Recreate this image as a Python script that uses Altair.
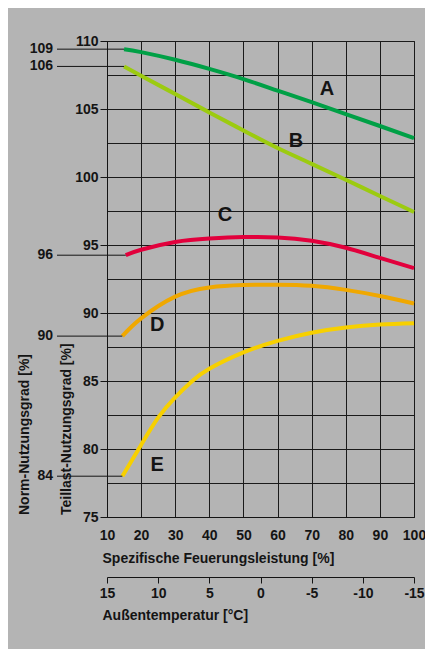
import altair as alt
import pandas as pd

FONT = "Liberation Sans"
BG = "#b4b4b4"
INK = "#141414"

# Axis values
leistung_ticks = [10, 20, 30, 40, 50, 60, 70, 80, 90, 100]
y_ticks = [75, 77.5, 80, 82.5, 85, 87.5, 90, 92.5, 95, 97.5, 100, 102.5, 105, 107.5, 110]
temp_ticks = [15, 10, 5, 0, -5, -10, -15]

# Curves (Teillast-Nutzungsgrad vs. spezifische Feuerungsleistung)
curve_names = ["A", "B", "C", "D", "E"]
curve_colors = ["#00a046", "#9ccb10", "#e2003c", "#f0a800", "#f7d000"]

a_x = [15, 20, 30, 40, 50, 60, 70, 80, 90, 100]
a_y = [109.4, 109.18, 108.62, 107.95, 107.2, 106.35, 105.5, 104.63, 103.75, 102.86]
b_x = [15, 20, 30, 40, 50, 60, 70, 80, 90, 100]
b_y = [108.13, 107.45, 106.1, 104.75, 103.42, 102.13, 100.97, 99.8, 98.6, 97.43]
c_x = [15.5, 20, 30, 40, 50, 60, 70, 80, 90, 100]
c_y = [94.25, 94.65, 95.22, 95.47, 95.58, 95.56, 95.32, 94.8, 94.05, 93.3]
d_x = [14.5, 20, 30, 40, 50, 60, 70, 80, 90, 100]
d_y = [88.3, 89.6, 91.2, 91.88, 92.05, 92.08, 92.0, 91.7, 91.25, 90.7]
e_x = [14.5, 20, 25, 30, 35, 40, 50, 60, 70, 80, 90, 100]
e_y = [78.0, 80.3, 82.3, 83.8, 85.0, 85.9, 87.1, 87.95, 88.55, 88.93, 89.15, 89.25]

# Norm-Nutzungsgrad labels for each curve
norm_labels = ["109", "106", "96", "90", "84"]

# Curve letter label positions
letter_x = [74.5, 65.4, 44.6, 24.7, 24.7]
letter_y = [106.5, 102.65, 97.2, 89.1, 78.8]

series = [(a_x, a_y), (b_x, b_y), (c_x, c_y), (d_x, d_y), (e_x, e_y)]
rows = []
starts = []
for name, (xs, ys), norm in zip(curve_names, series, norm_labels):
    for xv, yv in zip(xs, ys):
        rows.append({"curve": name, "x": xv, "y": yv})
    starts.append({"curve": name, "x": xs[0], "y": ys[0], "norm": norm})
curves = pd.DataFrame(rows)
starts_df = pd.DataFrame(starts)
letters_df = pd.DataFrame({"curve": curve_names, "x": letter_x, "y": letter_y})
temp_df = pd.DataFrame({"t": temp_ticks})

W, H = 307, 476

x_scale = alt.Scale(domain=[10, 100], nice=False, zero=False)
y_scale = alt.Scale(domain=[75, 110], nice=False, zero=False)

common = dict(labelFont=FONT, titleFont=FONT, labelFontSize=14, titleFontSize=14,
              labelFontWeight="bold", titleFontWeight="bold", labelColor=INK, titleColor=INK,
              labelOverlap=False)

x_axis = alt.Axis(
    values=leistung_ticks, ticks=False, labelPadding=11, labelFlush=False,
    title="Spezifische Feuerungsleistung [%]", titleX=-5, titleY=41,
    titleAlign="left", titleBaseline="middle", grid=True, **common,
)
y_axis = alt.Axis(
    values=y_ticks, labelExpr="datum.value % 5 === 0 ? datum.label : ''",
    tickSize=7, tickColor=INK,
    tickOpacity={"condition": {"test": "datum.value % 5 === 0", "value": 1}, "value": 0},
    labelPadding=2, title=None, grid=True, **common,
)

X = alt.X("x:Q", scale=x_scale, axis=x_axis)
Y = alt.Y("y:Q", scale=y_scale, axis=y_axis)

lines = alt.Chart(curves).mark_line(strokeWidth=4, interpolate="natural", strokeCap="butt").encode(
    x=X, y=Y,
    color=alt.Color("curve:N", scale=alt.Scale(domain=curve_names, range=curve_colors), legend=None),
)

leaders = alt.Chart(starts_df).mark_rule(color=INK, strokeWidth=1).encode(
    x=X, x2=alt.value(-50), y=Y,
)

norm_text = alt.Chart(starts_df).mark_text(
    align="right", baseline="middle", font=FONT, fontSize=14, fontWeight="bold", color=INK
).encode(x=alt.value(-54), y=Y, text="norm:N")

letters = alt.Chart(letters_df).mark_text(
    align="center", baseline="middle", font=FONT, fontSize=20, fontWeight="bold", color=INK
).encode(x=X, y=Y, text="curve:N")

one = alt.Data(values=[{}])
norm_title = alt.Chart(one).mark_text(
    text="Norm-Nutzungsgrad [%]", angle=270, align="left", baseline="middle",
    font=FONT, fontSize=14, fontWeight="bold", color=INK,
).encode(x=alt.value(-82), y=alt.value(474))
teil_title = alt.Chart(one).mark_text(
    text="Teillast-Nutzungsgrad [%]", angle=270, align="left", baseline="middle",
    font=FONT, fontSize=14, fontWeight="bold", color=INK,
).encode(x=alt.value(-40), y=alt.value(474))

strip_left = alt.Chart(one).mark_rect(color="white").encode(
    x=alt.value(-107), x2=alt.value(-99), y=alt.value(-41), y2=alt.value(608))
strip_top = alt.Chart(one).mark_rect(color="white").encode(
    x=alt.value(-107), x2=alt.value(318), y=alt.value(-41), y2=alt.value(-33))

main = alt.layer(lines, leaders, norm_text, letters, norm_title, teil_title, strip_left, strip_top)

temp_layer = alt.Chart(temp_df).mark_point(opacity=0).encode(
    x=alt.X("t:Q", scale=alt.Scale(domain=[15, -15], nice=False, zero=False),
            axis=alt.Axis(orient="bottom", offset=60, values=temp_ticks, grid=False,
                          tickSize=6, tickColor=INK, domainColor=INK, labelPadding=3,
                          labelFlush=False, labelExpr="'' + datum.value",
                          title="Außentemperatur [°C]", titleX=-5, titleY=38,
                          titleAlign="left", titleBaseline="middle", **common)),
)

chart = alt.layer(main, temp_layer).resolve_scale(x="independent").properties(
    width=W, height=H,
    background=BG,
    autosize=alt.AutoSizeParams(type="none"),
    padding={"left": 107, "top": 41, "right": 11, "bottom": 132},
).configure_view(
    stroke="#222", strokeWidth=1, fill=None,
).configure_axis(
    gridColor="#1a1a1a", gridWidth=1, gridOpacity=1, domainColor=INK, domainWidth=1,
    labelOverlap=False, labelFontWeight="bold", labelFont=FONT,
)

chart.save("out.html", embed_options={"renderer": "svg", "actions": False})
